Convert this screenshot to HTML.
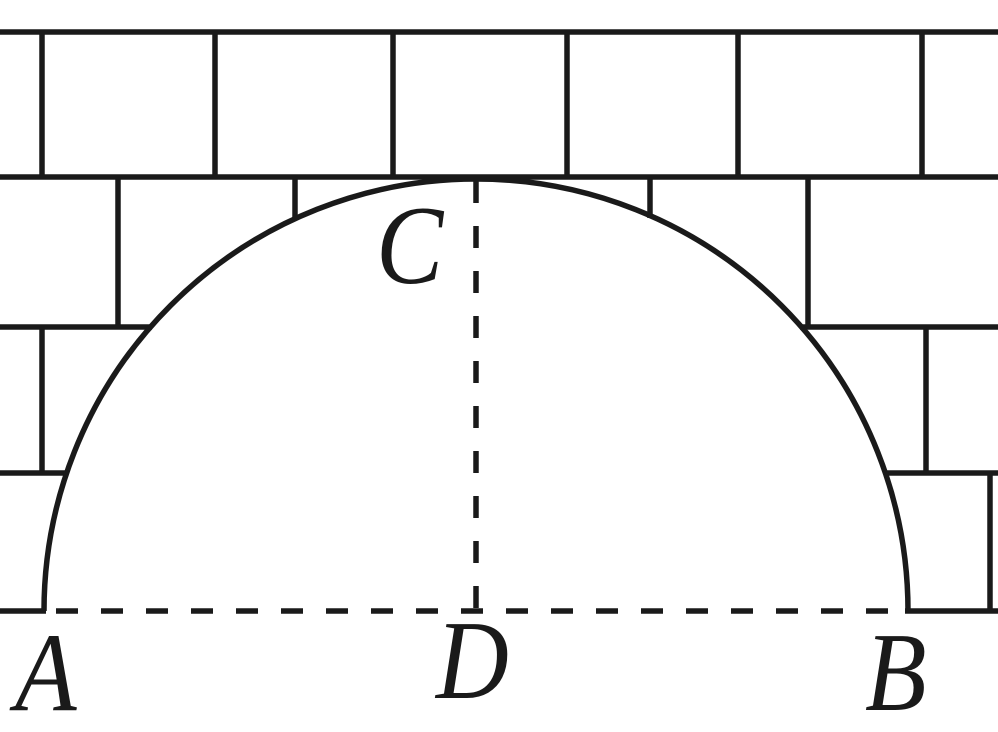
<!DOCTYPE html>
<html><head><style>
html,body{margin:0;padding:0;background:#fff;}
svg{display:block;}
</style></head><body>
<svg width="998" height="732" viewBox="0 0 998 732">
<g stroke="#1a1a1a" stroke-width="5.5" fill="none">
<line x1="0" y1="32" x2="998" y2="32"/>
<line x1="0" y1="177" x2="998" y2="177"/>
<line x1="0" y1="327" x2="152" y2="327"/>
<line x1="800" y1="327" x2="998" y2="327"/>
<line x1="0" y1="473" x2="66" y2="473"/>
<line x1="885" y1="473" x2="998" y2="473"/>
<line x1="0" y1="611" x2="46" y2="611"/>
<line x1="905" y1="611" x2="998" y2="611"/>
<line x1="42" y1="32" x2="42" y2="177"/>
<line x1="215" y1="32" x2="215" y2="177"/>
<line x1="393" y1="32" x2="393" y2="177"/>
<line x1="567" y1="32" x2="567" y2="177"/>
<line x1="738" y1="32" x2="738" y2="177"/>
<line x1="922" y1="32" x2="922" y2="177"/>
<line x1="118" y1="177" x2="118" y2="327"/>
<line x1="295" y1="177" x2="295" y2="218"/>
<line x1="650" y1="177" x2="650" y2="218"/>
<line x1="808" y1="177" x2="808" y2="327"/>
<line x1="42" y1="327" x2="42" y2="475"/>
<line x1="926" y1="327" x2="926" y2="473"/>
<line x1="990" y1="473" x2="990" y2="611"/>
<path d="M44 611 A432 432 0 0 1 908 611"/>
<line x1="46" y1="611" x2="905" y2="611" stroke-dasharray="22 23" stroke-dashoffset="-10"/>
<line x1="476" y1="181" x2="476" y2="611" stroke-dasharray="22 23"/>
</g>
<g font-family="Liberation Serif, serif" font-style="italic" font-size="112" fill="#1a1a1a">
<text transform="translate(376,283) scale(0.9,1)">C</text>
<text transform="translate(15,710) scale(0.9,1)">A</text>
<text transform="translate(436,698) scale(0.9,1)">D</text>
<text transform="translate(865,710) scale(0.9,1)">B</text>
</g>
</svg>
</body></html>
